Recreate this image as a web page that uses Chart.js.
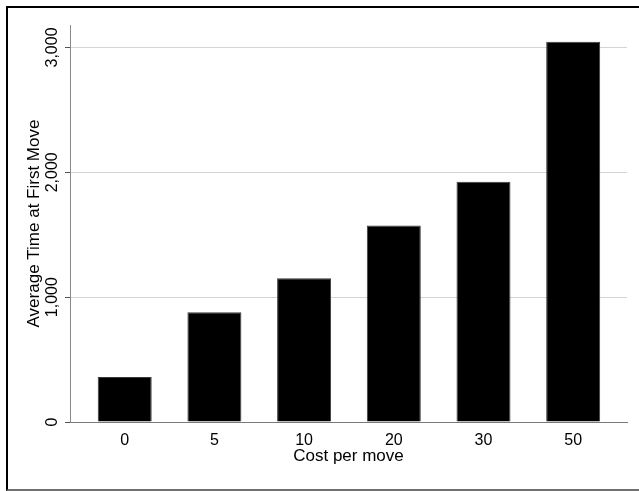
<!DOCTYPE html>
<html>
<head>
<meta charset="utf-8">
<script src="https://cdn.jsdelivr.net/npm/chart.js@4/dist/chart.umd.min.js"></script>
<style>
  html, body { margin: 0; padding: 0; background: #fff; }
  #wrap { position: relative; width: 639px; height: 491px; overflow: hidden; }
  #frame {
    position: absolute; left: 6px; top: 6px; width: 700px; height: 481px;
    border-left: 2px solid #000; border-top: 2px solid #000; border-bottom: 2px solid #707070;
    pointer-events: none;
  }
  canvas { position: absolute; left: 0; top: 0; }
</style>
</head>
<body>
<div id="wrap">
  <canvas id="c" width="639" height="491"></canvas>
  <div id="frame"></div>
</div>
<script>
// Cost per move (categories) and the average time at first move for each
const costLabels = ['0', '5', '10', '20', '30', '50'];
const avgTime = [360, 880, 1152, 1573, 1925, 3045];
const yTickValues = [0, 1000, 2000, 3000];

Chart.defaults.font.family = '"Liberation Sans", Arial, Helvetica, sans-serif';
Chart.defaults.color = '#000';

new Chart(document.getElementById('c'), {
  type: 'bar',
  data: {
    datasets: [{
      data: avgTime.map((v, i) => ({ x: i, y: v })),
      backgroundColor: '#000',
      borderColor: '#3a3a3a',
      borderWidth: 1,
      barPercentage: 0.602,
      categoryPercentage: 1
    }]
  },
  options: {
    responsive: false,
    animation: false,
    devicePixelRatio: 1,
    layout: { padding: { left: 0, right: 12, top: 25, bottom: 0 } },
    plugins: { legend: { display: false }, tooltip: { enabled: false } },
    scales: {
      x: {
        type: 'linear',
        offset: false,
        min: -0.61,
        max: 5.6,
        afterBuildTicks: (scale) => { scale.ticks = costLabels.map((_, i) => ({ value: i })); },
        afterFit: (scale) => { scale.height = 69; },
        grid: { display: false },
        border: { display: true, color: '#7a7a7a', width: 1 },
        ticks: {
          callback: (v) => costLabels[v],
          font: { size: 16 },
          padding: 1,
          maxRotation: 0,
          minRotation: 0
        },
        title: {
          display: true,
          text: 'Cost per move',
          font: { size: 17 },
          padding: { top: 0, bottom: 24 }
        }
      },
      y: {
        position: 'left',
        min: 0,
        max: 3180,
        afterBuildTicks: (scale) => { scale.ticks = yTickValues.map(v => ({ value: v })); },
        afterFit: (scale) => { scale.width = 70; },
        grid: {
          color: (ctx) => (ctx.tick && ctx.tick.value === 0) ? 'rgba(0,0,0,0)' : '#d4d4d4',
          tickColor: '#555',
          tickLength: 5,
          lineWidth: 1
        },
        border: { display: true, color: '#8a8a8a', width: 1 },
        ticks: {
          callback: (v) => v.toLocaleString('en-US'),
          font: { size: 16 },
          minRotation: 90,
          maxRotation: 90,
          crossAlign: 'center',
          padding: -7.5
        },
        title: {
          display: true,
          text: 'Average Time at First Move',
          font: { size: 17 },
          padding: { top: 24, bottom: 0 }
        }
      }
    }
  }
});
</script>
</body>
</html>
